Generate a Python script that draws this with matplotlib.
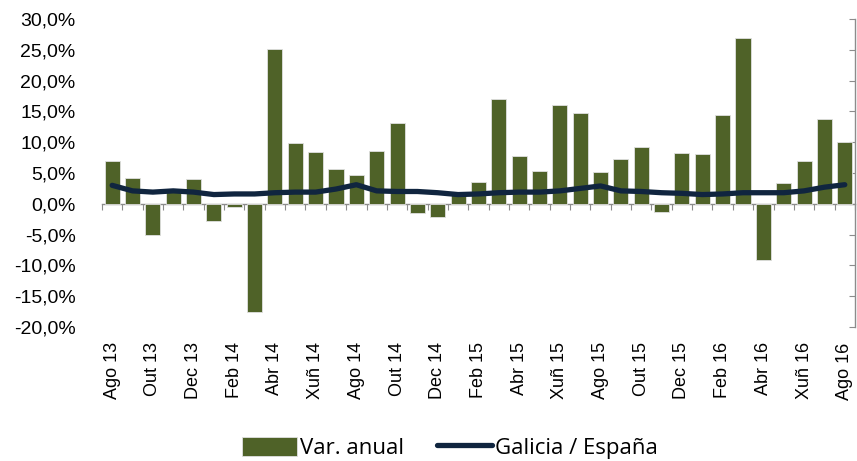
import matplotlib
matplotlib.use('Agg')

import matplotlib.pyplot as plt
import numpy as np
from matplotlib.ticker import FuncFormatter

plt.rcParams['font.family'] = ['Liberation Sans', 'DejaVu Sans']

# ========== datos ==========
meses = ['Ago 13', 'Set 13', 'Out 13', 'Nov 13', 'Dec 13', 'Xan 14', 'Feb 14', 'Mar 14',
         'Abr 14', 'Mai 14', 'Xuñ 14', 'Xul 14', 'Ago 14', 'Set 14', 'Out 14', 'Nov 14',
         'Dec 14', 'Xan 15', 'Feb 15', 'Mar 15', 'Abr 15', 'Mai 15', 'Xuñ 15', 'Xul 15',
         'Ago 15', 'Set 15', 'Out 15', 'Nov 15', 'Dec 15', 'Xan 16', 'Feb 16', 'Mar 16',
         'Abr 16', 'Mai 16', 'Xuñ 16', 'Xul 16', 'Ago 16']

var_anual = [6.9, 4.2, -5.1, 2.2, 4.0, -2.8, -0.5, -17.5,
             25.1, 9.8, 8.4, 5.6, 4.7, 8.5, 13.1, -1.5,
             -2.1, 1.5, 3.5, 17.0, 7.8, 5.3, 16.0, 14.8,
             5.2, 7.3, 9.3, -1.3, 8.2, 8.1, 14.4, 26.9,
             -9.1, 3.4, 6.9, 13.7, 10.0]

galicia_espana = [3.0, 2.1, 1.9, 2.1, 1.9, 1.5, 1.6, 1.6,
                  1.8, 1.9, 1.9, 2.4, 3.1, 2.1, 2.0, 2.0,
                  1.8, 1.5, 1.6, 1.8, 1.9, 1.9, 2.1, 2.5,
                  2.9, 2.1, 2.0, 1.8, 1.7, 1.5, 1.6, 1.8,
                  1.8, 1.8, 2.1, 2.7, 3.1]

VERDE = '#4f6228'
AZUL = '#10253f'
GRIS = '#8c8c8c'

# ========== grafico ==========
fig = plt.figure(figsize=(8.57, 4.61), dpi=100)
ax = fig.add_axes([0.119, 0.2907, 0.8786, 0.668])

x = np.arange(len(meses))
barras = ax.bar(x, var_anual, width=0.74, color=VERDE, edgecolor='#e0e0e0', linewidth=0.6,
                zorder=2)
linea, = ax.plot(x, galicia_espana, color=AZUL, linewidth=3.8, solid_capstyle='round',
                 solid_joinstyle='round', zorder=4)

ax.set_xlim(-0.5, len(meses) - 0.5)
ax.set_ylim(-20, 30)
ax.set_yticks(np.arange(-20, 31, 5))
ax.yaxis.set_major_formatter(FuncFormatter(lambda v, p: f'{v:.1f}%'.replace('.', ',')))

# etiquetas cada dos meses
ax.set_xticks(x[::2])
ax.set_xticklabels(meses[::2], rotation=90, fontsize=13)
ax.tick_params(axis='x', length=0, pad=11)
ax.tick_params(axis='y', left=False, right=True, direction='in', length=4,
               color=GRIS, labelsize=14, pad=19)

for s in ['top', 'left', 'bottom']:
    ax.spines[s].set_visible(False)
ax.spines['right'].set_color(GRIS)
ax.spines['right'].set_linewidth(1.0)

# eje en el cero con marcas entre categorias
cero = ax.secondary_xaxis(20 / 50)
cero.set_xticks(np.arange(-0.5, len(meses), 1.0))
cero.tick_params(axis='x', direction='out', length=4, color=GRIS, labelbottom=False)
cero.spines['bottom'].set_color(GRIS)
cero.spines['bottom'].set_linewidth(1.0)

# leyenda
fig.legend([barras, linea], ['Var. anual', 'Galicia / España'], loc='center',
           bbox_to_anchor=(450 / 857, 1 - 448 / 461),
           ncol=2, frameon=False, handlelength=2.45, handleheight=0.9,
           handletextpad=0.15, columnspacing=1.5,
           prop={'family': ['Open Sans', 'DejaVu Sans'], 'size': 16})

plt.savefig('out.png', dpi=100)
plt.close()
